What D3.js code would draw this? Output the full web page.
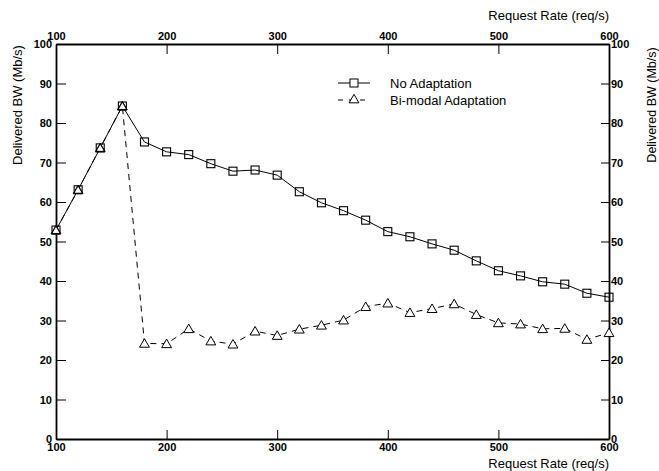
<!DOCTYPE html>
<html><head><meta charset="utf-8">
<script src="https://cdn.jsdelivr.net/npm/d3@7"></script>
<style>body{margin:0;background:#fff}svg{display:block}</style>
</head><body>
<svg id="c" width="659" height="471"></svg>
<script>
const rates = [100,120,140,160,180,200,220,240,260,280,300,320,340,360,380,400,420,440,460,480,500,520,540,560,580,600];
const noAdaptation = [52.9,63.1,73.7,84.3,75.2,72.7,72.0,69.7,67.8,68.1,66.8,62.6,59.8,57.8,55.4,52.5,51.2,49.4,47.8,45.1,42.6,41.3,39.8,39.2,36.9,35.9];
const bimodal = [52.9,63.1,73.7,84.3,24.2,24.1,27.9,24.8,24.0,27.3,26.2,27.8,28.8,30.1,33.5,34.4,32.0,33.0,34.2,31.5,29.4,29.1,27.9,28.0,25.2,26.9];
const xTicks = [100,200,300,400,500,600];
const yTicks = [0,10,20,30,40,50,60,70,80,90,100];
const seriesNames = ["No Adaptation","Bi-modal Adaptation"];

const svg = d3.select("#c");
const L=56, R=609, T=44, B=439;
const x = d3.scaleLinear().domain([100,600]).range([L,R]);
const y = d3.scaleLinear().domain([0,100]).range([B,T]);
const font = "Liberation Sans, Arial, Helvetica, sans-serif";

function styleAxis(g){
  g.select(".domain").attr("stroke","#000").attr("stroke-width",1.8);
  g.selectAll(".tick line").attr("stroke","#000").attr("stroke-width",1);
  g.selectAll(".tick text").attr("font-family",font).attr("font-size",11).attr("font-weight","bold").attr("fill","#000");
}
// bottom
svg.append("g").attr("transform",`translate(0,${B})`)
  .call(d3.axisBottom(x).tickValues(xTicks).tickSizeInner(-9).tickSizeOuter(0).tickPadding(3))
  .call(styleAxis).call(g=>g.selectAll(".tick text").attr("y",3).attr("dy","0.85em"));
// top
svg.append("g").attr("transform",`translate(0,${T})`)
  .call(d3.axisTop(x).tickValues(xTicks).tickSizeInner(-10).tickSizeOuter(0).tickPadding(2))
  .call(styleAxis).call(g=>g.selectAll(".tick text").attr("y",-4).attr("dy","0"));
// left
svg.append("g").attr("transform",`translate(${L},0)`)
  .call(d3.axisLeft(y).tickValues(yTicks).tickSizeInner(-10).tickSizeOuter(0).tickPadding(4))
  .call(styleAxis);
// right
svg.append("g").attr("transform",`translate(${R},0)`)
  .call(d3.axisRight(y).tickValues(yTicks).tickSizeInner(-8).tickSizeOuter(0).tickPadding(2))
  .call(styleAxis);

// titles
svg.append("text").attr("x",R).attr("y",20).attr("text-anchor","end")
  .attr("font-family",font).attr("font-size",13).text("Request Rate (req/s)");
svg.append("text").attr("x",R).attr("y",468).attr("text-anchor","end")
  .attr("font-family",font).attr("font-size",13).text("Request Rate (req/s)");
svg.append("text").attr("transform",`translate(22,105) rotate(-90)`).attr("text-anchor","middle")
  .attr("font-family",font).attr("font-size",13).text("Delivered BW (Mb/s)");
svg.append("text").attr("transform",`translate(656,105) rotate(-90)`).attr("text-anchor","middle")
  .attr("font-family",font).attr("font-size",12.5).text("Delivered BW (Mb/s)");

const line = d3.line().x((d,i)=>x(rates[i])).y(d=>y(d));
const plot = svg.append("g");
plot.append("path").datum(bimodal).attr("d",line).attr("fill","none").attr("stroke","#000")
  .attr("stroke-width",1).attr("stroke-dasharray","6,5");
plot.append("path").datum(noAdaptation).attr("d",line).attr("fill","none").attr("stroke","#000").attr("stroke-width",1);

const tri = d3.symbol().type(d3.symbolTriangle).size(42);
plot.selectAll(".tri").data(bimodal).enter().append("path")
  .attr("transform",(d,i)=>`translate(${x(rates[i])},${y(d)+1})`)
  .attr("d",tri).attr("fill","#fff").attr("stroke","#000").attr("stroke-width",1);
plot.selectAll(".sq").data(noAdaptation).enter().append("rect")
  .attr("x",(d,i)=>x(rates[i])-4).attr("y",d=>y(d)-4).attr("width",8).attr("height",8)
  .attr("fill","none").attr("stroke","#000").attr("stroke-width",1.1);
plot.selectAll(".tri2").data(bimodal.slice(0,4)).enter().append("path")
  .attr("transform",(d,i)=>`translate(${x(rates[i])},${y(d)+1})`)
  .attr("d",d3.symbol().type(d3.symbolTriangle).size(30)).attr("fill","none").attr("stroke","#000").attr("stroke-width",0.8);

// legend
const lg = svg.append("g");
const lx1=338, lx2=370, ly=[83,100];
lg.append("line").attr("x1",lx1).attr("x2",lx2).attr("y1",ly[0]).attr("y2",ly[0]).attr("stroke","#000");
lg.append("rect").attr("x",(lx1+lx2)/2-4).attr("y",ly[0]-4).attr("width",8).attr("height",8).attr("fill","#fff").attr("stroke","#000");
lg.append("line").attr("x1",lx1).attr("x2",lx2).attr("y1",ly[1]).attr("y2",ly[1]).attr("stroke","#000").attr("stroke-dasharray","5,6");
lg.append("path").attr("transform",`translate(${(lx1+lx2)/2},${ly[1]})`).attr("d",tri).attr("fill","#fff").attr("stroke","#000");
seriesNames.forEach((n,i)=>{
  lg.append("text").attr("x",390).attr("y",ly[i]).attr("dy","0.35em").attr("font-family",font).attr("font-size",13).text(n);
});
</script>
</body></html>
